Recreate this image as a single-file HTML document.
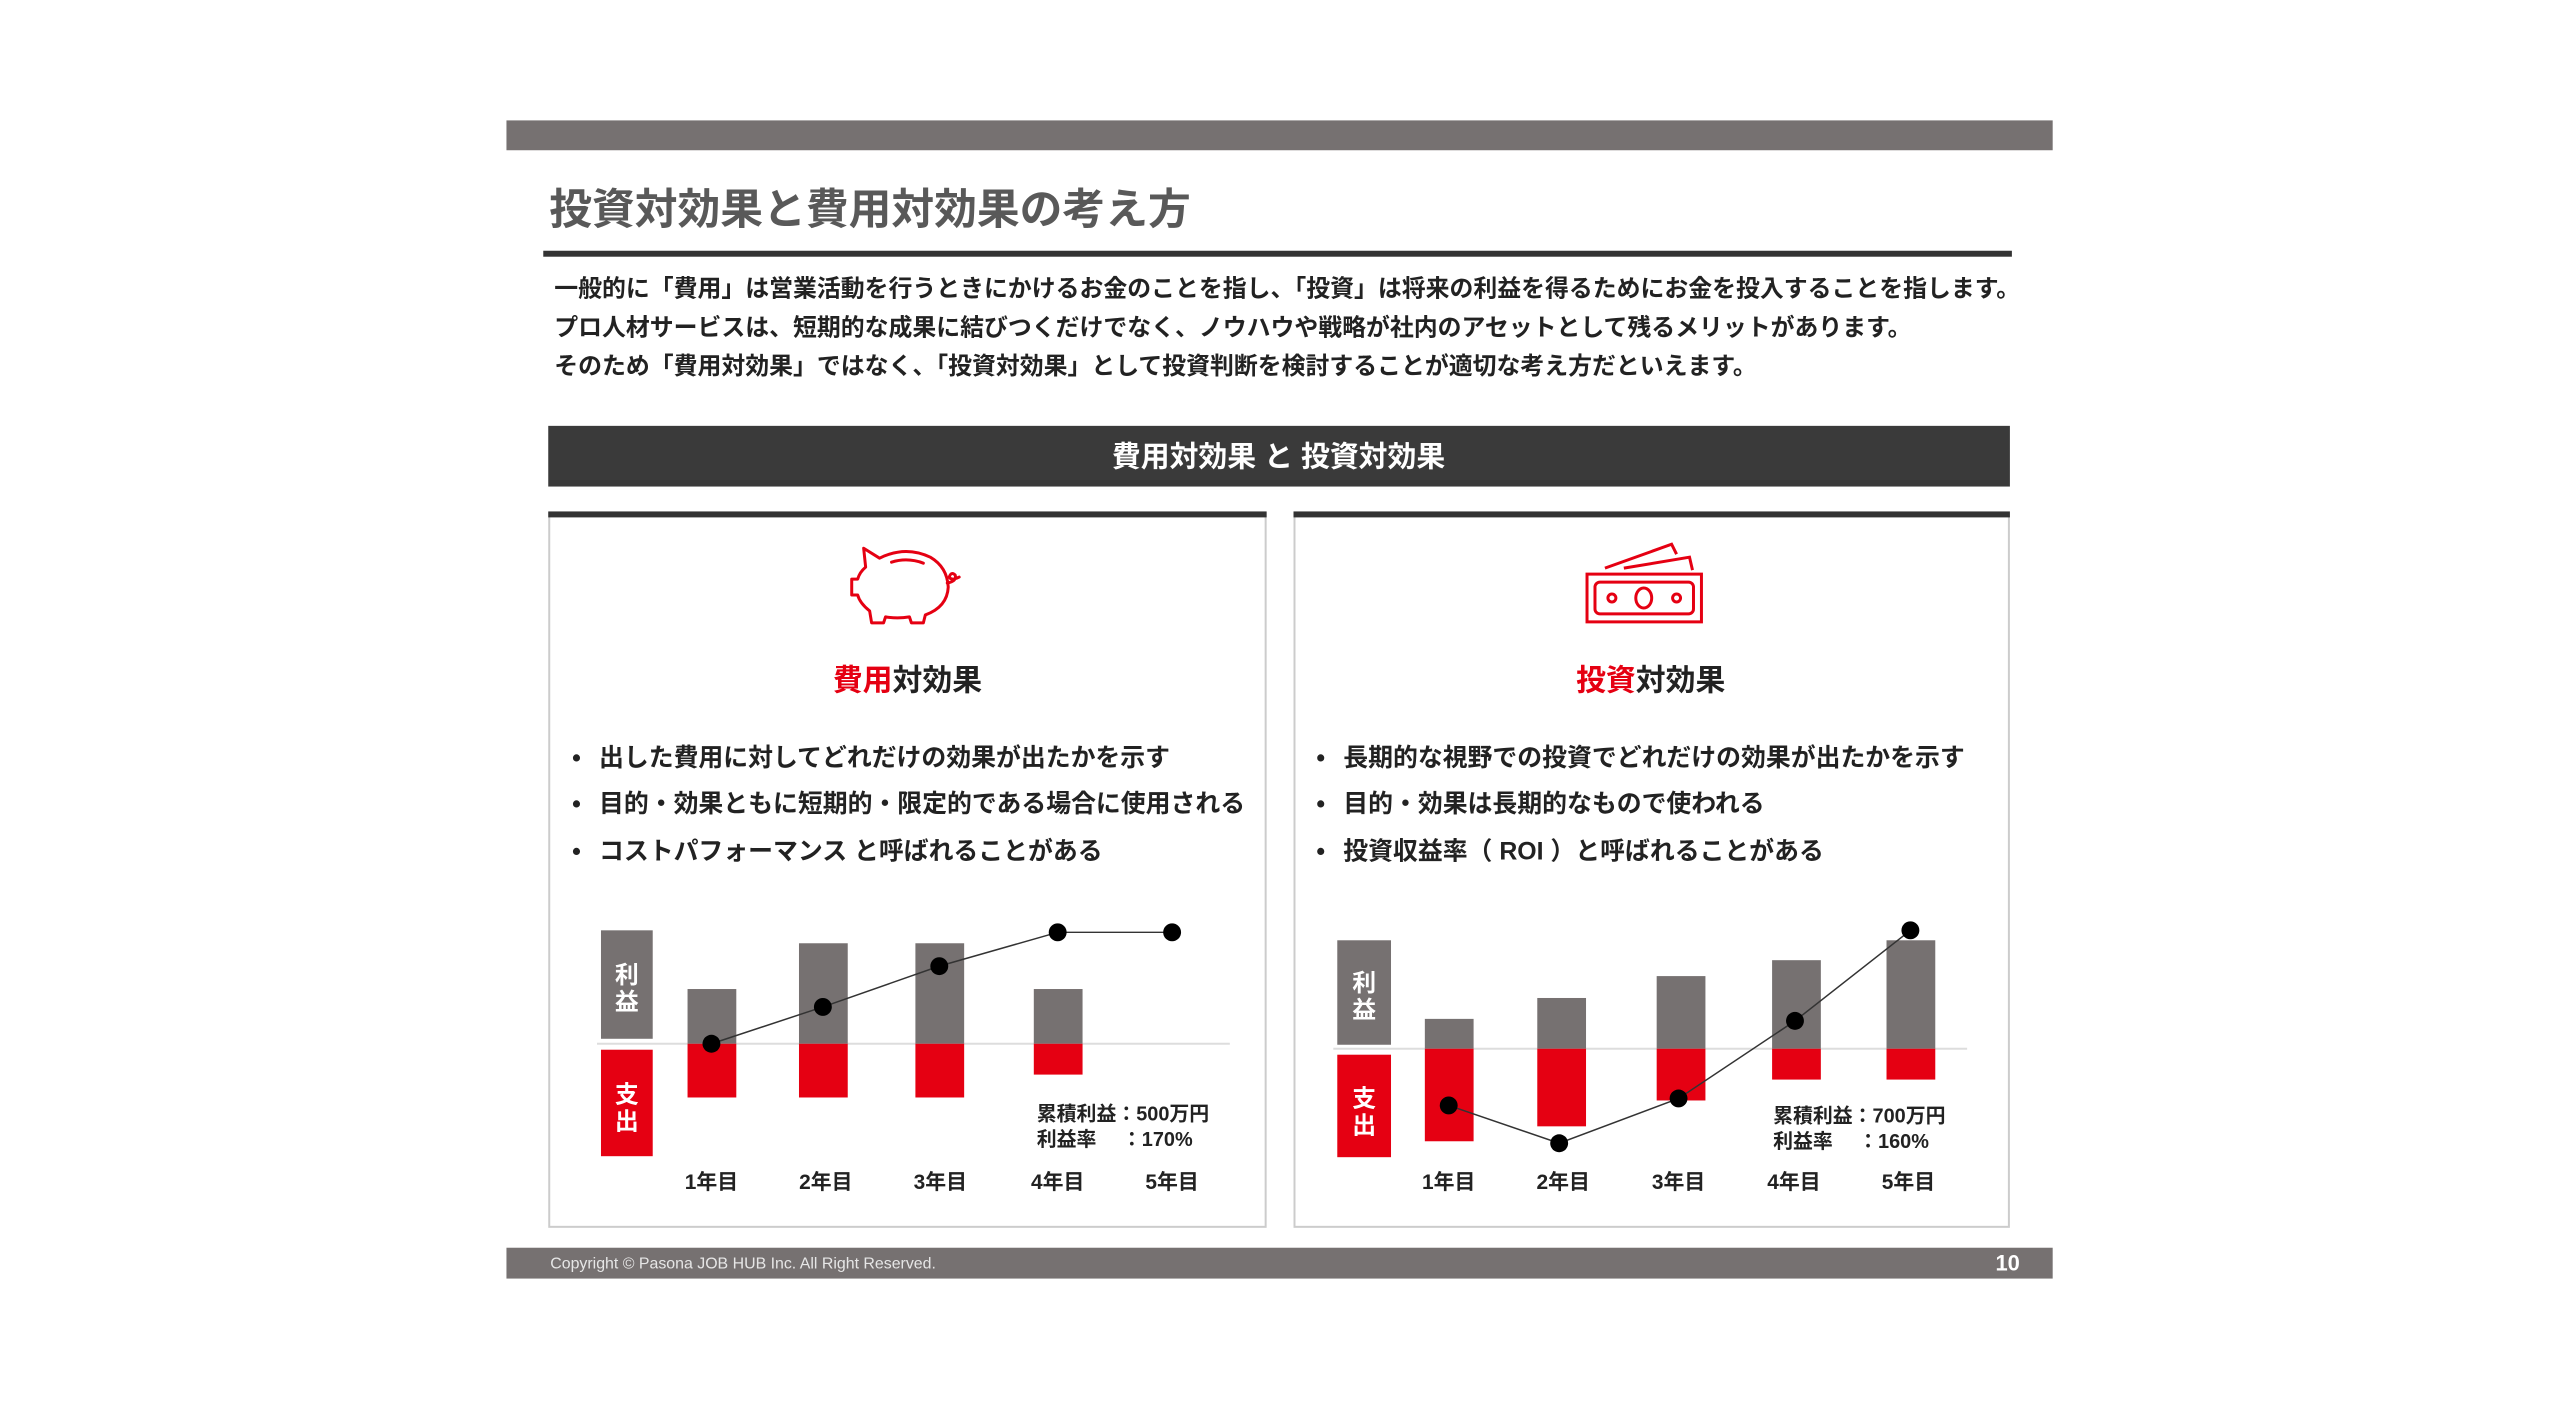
<!DOCTYPE html>
<html><head><meta charset="utf-8"><style>
html,body{margin:0;padding:0;background:#fff;}
svg{display:block}
text{font-family:"Liberation Sans","Noto Sans CJK JP",sans-serif;}
</style></head><body>
<svg width="2560" height="1401" viewBox="0 0 2560 1401" xmlns="http://www.w3.org/2000/svg">
<g transform="scale(0.995)">
<rect x="509" y="121" width="1554" height="30" fill="#767171"/>
<text x="552" y="225" font-size="43" font-weight="700" fill="#595959">投資対効果と費用対効果の考え方</text>
<rect x="546" y="252" width="1476" height="6" fill="#333"/>
<g font-size="24" font-weight="700" fill="#222">
<text x="557" y="298">一般的に「費用」は営業活動を行うときにかけるお金のことを指し、「投資」は将来の利益を得るためにお金を投入することを指します。</text>
<text x="557" y="337">プロ人材サービスは、短期的な成果に結びつくだけでなく、ノウハウや戦略が社内のアセットとして残るメリットがあります。</text>
<text x="557" y="376">そのため「費用対効果」ではなく、「投資対効果」として投資判断を検討することが適切な考え方だといえます。</text>
</g>
<rect x="551" y="428" width="1469" height="61" fill="#3a3a3a"/>
<text x="1285" y="469" font-size="29" font-weight="700" fill="#fff" text-anchor="middle">費用対効果 と 投資対効果</text>

<rect x="552" y="516" width="720" height="717" fill="#fff" stroke="#ccc" stroke-width="2"/>
<rect x="551" y="514" width="722" height="6" fill="#333"/>
<rect x="1301" y="516" width="718" height="717" fill="#fff" stroke="#ccc" stroke-width="2"/>
<rect x="1300" y="514" width="720" height="6" fill="#333"/>

<g fill="none" stroke="#e50012" stroke-width="3" stroke-linejoin="round" stroke-linecap="round">
<path d="M870 570 L868 551 L884 561 Q910 548 935 560 Q952 570 953 590 Q952 610 930 618 L928 626 L916 626 L914 620 Q902 622 890 620 L888 626 L876 626 L874 614 Q864 606 862 598 L856 598 L856 582 L862 582 Q864 575 870 570 Z"/>
<path d="M896 565 Q912 560 928 566"/>
<path d="M952 586 Q962 584 960 578 Q956 574 954 580 Q956 584 964 580"/>
</g>
<text x="912" y="694" font-size="30" font-weight="700" text-anchor="middle" fill="#222"><tspan fill="#e50012">費用</tspan>対効果</text>

<g fill="none" stroke="#e50012" stroke-width="3">
<rect x="1595" y="577" width="115" height="48"/>
<rect x="1603" y="585" width="99" height="32" rx="5"/>
<ellipse cx="1652" cy="601" rx="8" ry="10"/>
<circle cx="1620" cy="601" r="4"/>
<circle cx="1685" cy="601" r="4"/>
<path d="M1613 571 L1680 547 L1685 557"/>
<path d="M1632 571 L1698 560 L1701 573"/>
</g>
<text x="1659" y="694" font-size="30" font-weight="700" text-anchor="middle" fill="#222"><tspan fill="#e50012">投資</tspan>対効果</text>

<g font-size="25" font-weight="700" fill="#222">
<text x="575" y="770">•</text><text x="602" y="770">出した費用に対してどれだけの効果が出たかを示す</text>
<text x="575" y="816">•</text><text x="602" y="816">目的・効果ともに短期的・限定的である場合に使用される</text>
<text x="575" y="864">•</text><text x="602" y="864">コストパフォーマンス と呼ばれることがある</text>
<text x="1323" y="770">•</text><text x="1350" y="770">長期的な視野での投資でどれだけの効果が出たかを示す</text>
<text x="1323" y="816">•</text><text x="1350" y="816">目的・効果は長期的なもので使われる</text>
<text x="1323" y="864">•</text><text x="1350" y="864">投資収益率（ ROI ）と呼ばれることがある</text>
</g>

<line x1="600" y1="1049" x2="1236" y2="1049" stroke="#ddd" stroke-width="2"/>
<rect x="604" y="935" width="52" height="109" fill="#767171"/>
<rect x="604" y="1055" width="52" height="107" fill="#e50012"/>
<g font-size="24" font-weight="700" fill="#fff" text-anchor="middle">
<text x="630" y="988">利</text><text x="630" y="1015">益</text>
<text x="630" y="1108">支</text><text x="630" y="1135">出</text>
</g>
<g fill="#767171">
<rect x="691" y="994" width="49" height="55"/>
<rect x="803" y="948" width="49" height="101"/>
<rect x="920" y="948" width="49" height="101"/>
<rect x="1039" y="994" width="49" height="55"/>
</g>
<g fill="#e50012">
<rect x="691" y="1049" width="49" height="54"/>
<rect x="803" y="1049" width="49" height="54"/>
<rect x="920" y="1049" width="49" height="54"/>
<rect x="1039" y="1049" width="49" height="31"/>
</g>
<polyline points="715,1049 827,1012 944,971 1063,937 1178,937" fill="none" stroke="#333" stroke-width="1.5"/>
<g fill="#000"><circle cx="715" cy="1049" r="9"/><circle cx="827" cy="1012" r="9"/><circle cx="944" cy="971" r="9"/><circle cx="1063" cy="937" r="9"/><circle cx="1178" cy="937" r="9"/></g>
<g font-size="20" font-weight="700" fill="#222">
<text x="1042" y="1126">累積利益：500万円</text>
<text x="1042" y="1152">利益率　 ：170%</text>
</g>
<g font-size="21" font-weight="700" fill="#222" text-anchor="middle">
<text x="715" y="1195">1年目</text><text x="830" y="1195">2年目</text><text x="945" y="1195">3年目</text><text x="1063" y="1195">4年目</text><text x="1178" y="1195">5年目</text>
</g>

<line x1="1340" y1="1054" x2="1977" y2="1054" stroke="#ddd" stroke-width="2"/>
<rect x="1344" y="945" width="54" height="105" fill="#767171"/>
<rect x="1344" y="1060" width="54" height="103" fill="#e50012"/>
<g font-size="24" font-weight="700" fill="#fff" text-anchor="middle">
<text x="1371" y="996">利</text><text x="1371" y="1023">益</text>
<text x="1371" y="1112">支</text><text x="1371" y="1139">出</text>
</g>
<g fill="#767171">
<rect x="1432" y="1024" width="49" height="30"/>
<rect x="1545" y="1003" width="49" height="51"/>
<rect x="1665" y="981" width="49" height="73"/>
<rect x="1781" y="965" width="49" height="89"/>
<rect x="1896" y="945" width="49" height="109"/>
</g>
<g fill="#e50012">
<rect x="1432" y="1054" width="49" height="93"/>
<rect x="1545" y="1054" width="49" height="78"/>
<rect x="1665" y="1054" width="49" height="52"/>
<rect x="1781" y="1054" width="49" height="31"/>
<rect x="1896" y="1054" width="49" height="31"/>
</g>
<polyline points="1456,1111 1567,1149 1687,1104 1804,1026 1920,935" fill="none" stroke="#333" stroke-width="1.5"/>
<g fill="#000"><circle cx="1456" cy="1111" r="9"/><circle cx="1567" cy="1149" r="9"/><circle cx="1687" cy="1104" r="9"/><circle cx="1804" cy="1026" r="9"/><circle cx="1920" cy="935" r="9"/></g>
<g font-size="20" font-weight="700" fill="#222">
<text x="1782" y="1128">累積利益：700万円</text>
<text x="1782" y="1154">利益率　 ：160%</text>
</g>
<g font-size="21" font-weight="700" fill="#222" text-anchor="middle">
<text x="1456" y="1195">1年目</text><text x="1571" y="1195">2年目</text><text x="1687" y="1195">3年目</text><text x="1803" y="1195">4年目</text><text x="1918" y="1195">5年目</text>
</g>

<rect x="509" y="1254" width="1554" height="31" fill="#767171"/>
<text x="553" y="1275" font-size="16" fill="#e6e6e6">Copyright © Pasona JOB HUB Inc. All Right Reserved.</text>
<text x="2030" y="1277" font-size="22" font-weight="700" fill="#fff" text-anchor="end">10</text>
</g>
</svg>
</body></html>
